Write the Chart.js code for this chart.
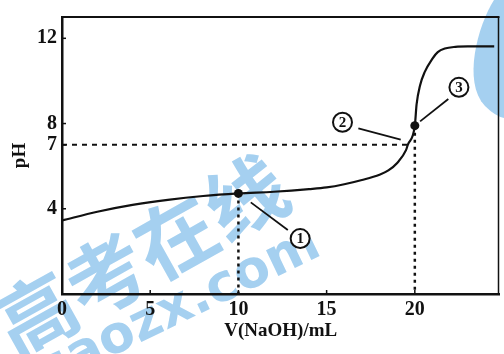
<!DOCTYPE html>
<html>
<head>
<meta charset="utf-8">
<script src="https://cdn.jsdelivr.net/npm/chart.js@4.4.1/dist/chart.umd.min.js"></script>
<style>
  html, body { margin: 0; padding: 0; background: #fff; }
</style>
</head>
<body>
<canvas id="chart" width="504" height="354"></canvas>
<script>
// titration curve
const volumes = [0, 2, 4, 6, 8, 10, 12, 14, 15, 16, 17, 18, 18.5, 19, 19.5, 19.6, 20, 20.1, 20.3, 20.55, 21, 21.3, 21.7, 22.3, 23, 24.5];
const phValues = [3.45, 3.86, 4.18, 4.42, 4.6, 4.72, 4.8, 4.92, 5.0, 5.15, 5.35, 5.6, 5.8, 6.15, 6.75, 7.0, 7.9, 8.9, 9.8, 10.4, 11.05, 11.35, 11.52, 11.6, 11.62, 11.62];

const xTicks = [0, 5, 10, 15, 20];
const yTicks = [4, 7, 8, 12];

// marked points ①②③ : [V, pH]
const markNames = ["1", "2", "3"];
const markPoints = [[10, 4.72], [19.6, 7.0], [20, 7.9]];
// circled label centres and leader lines [from, to]
const labelPos = [[13.5, 2.6], [15.9, 8.06], [22.5, 9.7]];
const leaders = [[[10.7, 4.3], [12.8, 3.0]], [[16.8, 7.77], [19.2, 7.25]], [[21.9, 9.15], [20.3, 8.1]]];

const SERIF = "'Liberation Serif', 'DejaVu Serif', serif";
const BLUE = "#a5d0f0";

const curve = volumes.map((v, i) => ({ x: v, y: phValues[i] }));

const datasets = [
  // dashed guides
  {
    data: [{ x: 0, y: markPoints[1][1] }, { x: markPoints[1][0], y: markPoints[1][1] }],
    borderColor: "#111", borderWidth: 2, borderDash: [5, 5], pointRadius: 0, showLine: true
  },
  {
    data: [{ x: markPoints[0][0], y: markPoints[0][1] }, { x: markPoints[0][0], y: 0 }],
    borderColor: "#111", borderWidth: 2.5, borderDash: [3, 4], pointRadius: 0, showLine: true
  },
  {
    data: [{ x: markPoints[2][0], y: markPoints[2][1] }, { x: markPoints[2][0], y: 0 }],
    borderColor: "#111", borderWidth: 2.5, borderDash: [3, 4], pointRadius: 0, showLine: true
  },
  // the curve
  {
    data: curve, borderColor: "#111", borderWidth: 2.2, pointRadius: 0,
    showLine: true, cubicInterpolationMode: "monotone"
  },
  // marked dots (② has no dot)
  {
    data: [markPoints[0], markPoints[2]].map(p => ({ x: p[0], y: p[1] })),
    pointRadius: 4.5, pointBackgroundColor: "#111", pointBorderWidth: 0, showLine: false
  }
];

// leader lines
leaders.forEach(l => {
  datasets.push({
    data: l.map(p => ({ x: p[0], y: p[1] })),
    borderColor: "#111", borderWidth: 1.8, pointRadius: 0, showLine: true
  });
});

// watermark behind the plot
const watermark = {
  id: "watermark",
  beforeDraw(chart) {
    const ctx = chart.ctx;
    ctx.save();
    ctx.fillStyle = BLUE;
    // logo drop at top right
    ctx.beginPath();
    ctx.moveTo(494, 0);
    ctx.bezierCurveTo(478, 25, 462, 82, 485, 106);
    ctx.quadraticCurveTo(495, 116, 504, 118);
    ctx.lineTo(504, 0);
    ctx.closePath();
    ctx.fill();

    ctx.translate(1, 334);
    ctx.rotate(-0.51);
    ctx.textBaseline = "middle";
    ctx.font = "bold 80px 'Noto Sans CJK SC'";
    ctx.fillText("高考在线", 0, 0);
    ctx.restore();

    ctx.save();
    ctx.fillStyle = BLUE;
    ctx.translate(42, 390);
    ctx.rotate(-0.45);
    ctx.font = "bold 52px 'DejaVu Sans'";
    ctx.fillText("gaozx.com", 0, 0);
    ctx.restore();
  }
};

// frame, inward ticks and circled labels
const extras = {
  id: "extras",
  afterDraw(chart) {
    const ctx = chart.ctx;
    const a = chart.chartArea;
    const xs = chart.scales.x, ys = chart.scales.y;
    ctx.save();
    ctx.strokeStyle = "#111";
    ctx.lineWidth = 2;
    ctx.beginPath();
    ctx.moveTo(a.left, a.top);
    ctx.lineTo(a.right, a.top);
    ctx.stroke();
    ctx.lineWidth = 1.5;
    ctx.beginPath();
    ctx.moveTo(a.right - 1, a.top);
    ctx.lineTo(a.right - 1, a.bottom);
    ctx.stroke();

    ctx.lineWidth = 1.5;
    yTicks.forEach(v => {
      const y = ys.getPixelForValue(v);
      ctx.beginPath(); ctx.moveTo(a.left, y); ctx.lineTo(a.left + 4, y); ctx.stroke();
    });
    xTicks.slice(1).forEach(v => {
      const x = xs.getPixelForValue(v);
      ctx.beginPath(); ctx.moveTo(x, a.bottom); ctx.lineTo(x, a.bottom - 4); ctx.stroke();
    });

    labelPos.forEach((p, i) => {
      const x = xs.getPixelForValue(p[0]);
      const y = ys.getPixelForValue(p[1]);
      ctx.fillStyle = "#fff";
      ctx.lineWidth = 2;
      ctx.beginPath();
      ctx.arc(x, y, 9.5, 0, Math.PI * 2);
      ctx.fill();
      ctx.stroke();
      ctx.fillStyle = "#111";
      ctx.font = "bold 15px " + SERIF;
      ctx.textAlign = "center";
      ctx.textBaseline = "middle";
      ctx.fillText(markNames[i], x, y + 1);
    });
    ctx.restore();
  }
};

const tickFont = { family: SERIF, size: 20, weight: "bold" };

new Chart(document.getElementById("chart"), {
  type: "scatter",
  data: { datasets },
  options: {
    responsive: false,
    animation: false,
    devicePixelRatio: 1,
    layout: { padding: { top: 12, right: 1, left: 0, bottom: 0 } },
    plugins: { legend: { display: false }, tooltip: { enabled: false } },
    scales: {
      x: {
        type: "linear", min: 0, max: 24.8,
        afterBuildTicks: s => { s.ticks = xTicks.map(v => ({ value: v })); },
        afterFit: s => { s.height = 60; },
        grid: { drawOnChartArea: false, drawTicks: false },
        border: { color: "#111", width: 2.5 },
        ticks: { color: "#111", font: tickFont, padding: 4, maxRotation: 0, autoSkip: false },
        title: { display: true, text: "V(NaOH)/mL", color: "#111", font: { family: SERIF, size: 19, weight: "bold" }, padding: { top: 0, bottom: 12 } }
      },
      y: {
        type: "linear", min: 0, max: 13,
        afterBuildTicks: s => { s.ticks = yTicks.map(v => ({ value: v })); },
        afterFit: s => { s.width = 62; },
        grid: { drawOnChartArea: false, drawTicks: false },
        border: { color: "#111", width: 2.5 },
        ticks: { color: "#111", font: tickFont, padding: 5, autoSkip: false },
        title: { display: true, text: "pH", color: "#111", font: { family: SERIF, size: 19, weight: "bold" }, padding: { top: 9, bottom: 0 } }
      }
    }
  },
  plugins: [watermark, extras]
});
</script>
</body>
</html>
